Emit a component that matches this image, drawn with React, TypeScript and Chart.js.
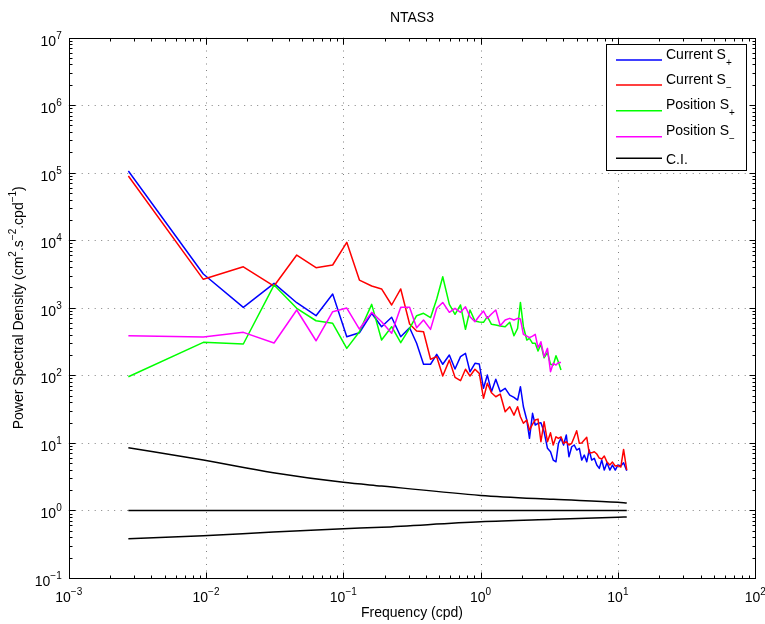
import { useEffect, useRef } from "react";
import { Chart, registerables } from "chart.js";

Chart.register(...registerables);

const FONT = '"Liberation Sans", Arial, Helvetica, sans-serif';

// Frequencies (cpd) of the spectral estimates
const FREQ = [
  0.00272, 0.00956, 0.0187, 0.0313, 0.0458, 0.0633, 0.0837, 0.106, 0.131, 0.161,
  0.19, 0.225, 0.262, 0.304, 0.342, 0.384, 0.432, 0.479, 0.53, 0.592,
  0.651, 0.714, 0.776, 0.837, 0.91, 0.978, 1.05, 1.12, 1.2, 1.29,
  1.39, 1.51, 1.63, 1.75, 1.86, 1.95, 2.05, 2.17, 2.27, 2.39,
  2.5, 2.62, 2.75, 2.9, 3.07, 3.23, 3.38, 3.54, 3.69, 3.85,
  4.02, 4.21, 4.4, 4.61, 4.81, 5.01, 5.24, 5.45, 5.69, 5.93,
  6.18, 6.44, 6.73, 7.02, 7.32, 7.63, 7.96, 8.33, 8.73, 9.13,
  9.57, 10.0, 10.5, 11.0, 11.6,
];

// Rotary spectra of the current record
const CURRENT_PLUS = [
  106000, 3170, 1015, 2300, 1190, 764, 1600, 373, 427, 830,
  525, 724, 373, 507, 298, 146, 146, 205, 146, 200,
  124, 189, 212, 113, 151, 147, 64.3, 101, 57.2, 87.6,
  57.2, 64.3, 51.1, 47.3, 43.1, 67.9, 34.3, 21.8, 11.7, 27.4,
  18.4, 19.5, 19.9, 14.6, 8.32, 7.39, 5.57, 5.26, 9.85, 11.7,
  9.31, 13.1, 6.23, 8.77, 9.31, 7.84, 8.32, 5.57, 6.61, 5.26,
  7.84, 5.57, 5.91, 4.7, 4.2, 5.57, 3.96, 5.08, 3.96, 4.7,
  3.96, 4.7, 4.54, 5.08, 3.87,
];
const CURRENT_MINUS = [
  89400, 2640, 4050, 2100, 6040, 3920, 4300, 9320, 2570, 2100,
  1900, 1100, 1900, 575, 453, 442, 173, 189, 97.7, 168,
  93.5, 83.3, 123, 97.7, 123, 107, 45.7, 76.3, 55.3, 48.2,
  52.9, 28.9, 34.3, 25.8, 34.3, 24.4, 19.5, 21.8, 15.5, 19.0,
  21.8, 22.5, 10.4, 20.6, 10.4, 14.1, 9.31, 12.3, 11.7, 12.3,
  9.85, 10.4, 9.31, 9.85, 12.2, 15.1, 9.85, 10.0, 11.0, 12.1,
  7.13, 7.13, 7.39, 6.85, 5.97, 5.77, 6.39, 5.2, 4.7, 5.2,
  4.54, 4.62, 4.39, 8.0, 3.96,
];

// Rotary spectra of the position record (first 50 frequencies)
const POSITION_PLUS = [
  95.4, 308, 291, 2170, 982, 643, 590, 251, 442, 1125,
  333, 525, 304, 497, 764, 830, 714, 1350, 2880, 1125,
  802, 1100, 480, 928, 636, 616, 610, 739, 569, 556,
  538, 525, 610, 386, 497, 1200, 525, 333, 353, 298,
  298, 229, 288, 182, 219, 146, 142, 195, 157, 120,
];
const POSITION_MINUS = [
  386, 369, 433, 301, 928, 325, 876, 990, 485, 857,
  622, 419, 1015, 1015, 507, 659, 480, 982, 1200, 857,
  982, 857, 1036, 739, 622, 755, 896, 698, 809, 928,
  543, 659, 698, 659, 698, 682, 405, 381, 361, 381,
  405, 256, 314, 189, 251, 113, 151, 142, 155, 155,
];

// Confidence interval (ratio to the estimate)
const CI_FREQ = [0.00272, 0.00956, 0.0309, 0.1, 0.19, 1.0, 3.39, 10.0, 11.6];
const CI_UPPER = [8.48, 5.57, 3.62, 2.61, 2.3, 1.67, 1.46, 1.32, 1.29];
const CI_LEVEL = [1, 1, 1, 1, 1, 1, 1, 1, 1];
const CI_LOWER = [0.381, 0.422, 0.479, 0.536, 0.565, 0.68, 0.738, 0.79, 0.8];

const X_EXPONENTS = [-3, -2, -1, 0, 1, 2];
const Y_EXPONENTS = [-1, 0, 1, 2, 3, 4, 5, 6, 7];

const TITLE = "NTAS3";
const X_TITLE = "Frequency (cpd)";

type Seg = { t: string; s?: "sup" | "sub" };

const Y_TITLE: Seg[] = [
  { t: "Power Spectral Density (cm" },
  { t: "2", s: "sup" },
  { t: ".s" },
  { t: "\u22122", s: "sup" },
  { t: ".cpd" },
  { t: "\u22121", s: "sup" },
  { t: ")" },
];

const LEGEND_ITEMS: { text: Seg[]; color: string }[] = [
  { text: [{ t: "Current S" }, { t: "+", s: "sub" }], color: "#0000ff" },
  { text: [{ t: "Current S" }, { t: "\u2212", s: "sub" }], color: "#ff0000" },
  { text: [{ t: "Position S" }, { t: "+", s: "sub" }], color: "#00ff00" },
  { text: [{ t: "Position S" }, { t: "\u2212", s: "sub" }], color: "#ff00ff" },
  { text: [{ t: "C.I." }], color: "#000000" },
];

function drawRich(
  ctx: CanvasRenderingContext2D,
  segs: Seg[],
  x: number,
  y: number,
  size: number,
  align: "left" | "center" | "right"
) {
  const small = Math.round(size * 0.72);
  ctx.textAlign = "left";
  ctx.textBaseline = "alphabetic";
  const widths = segs.map((seg) => {
    ctx.font = `${seg.s ? small : size}px ${FONT}`;
    return ctx.measureText(seg.t).width;
  });
  const total = widths.reduce((a, b) => a + b, 0);
  let cx = align === "left" ? x : align === "center" ? x - total / 2 : x - total;
  segs.forEach((seg, i) => {
    ctx.font = `${seg.s ? small : size}px ${FONT}`;
    const dy = seg.s === "sup" ? -size * 0.5 : seg.s === "sub" ? size * 0.5 : 0;
    ctx.fillText(seg.t, cx, y + dy);
    cx += widths[i];
  });
}

const matlabFrame = {
  id: "matlabFrame",
  beforeDatasetsDraw(chart: any) {
    const { ctx, chartArea: a, scales } = chart;
    const xs = scales.x;
    const ys = scales.y;
    ctx.save();
    ctx.strokeStyle = "#808080";
    ctx.lineWidth = 1;
    ctx.setLineDash([1, 5.5]);
    X_EXPONENTS.slice(1, -1).forEach((e) => {
      const px = Math.round(xs.getPixelForValue(Math.pow(10, e))) + 0.5;
      ctx.beginPath();
      ctx.moveTo(px, a.bottom);
      ctx.lineTo(px, a.top);
      ctx.stroke();
    });
    Y_EXPONENTS.slice(1, -1).forEach((e) => {
      const py = Math.round(ys.getPixelForValue(Math.pow(10, e))) + 0.5;
      ctx.beginPath();
      ctx.moveTo(a.left, py);
      ctx.lineTo(a.right, py);
      ctx.stroke();
    });
    ctx.restore();
  },
  afterDatasetsDraw(chart: any) {
    const { ctx, chartArea: a, scales } = chart;
    const xs = scales.x;
    const ys = scales.y;
    ctx.save();
    ctx.strokeStyle = "#000";
    ctx.fillStyle = "#000";
    ctx.lineWidth = 1;
    ctx.setLineDash([]);

    const L = Math.round(a.left) + 0.5;
    const R = Math.round(a.right) + 0.5;
    const T = Math.round(a.top) + 0.5;
    const B = Math.round(a.bottom) + 0.5;

    // tick marks, inward on all four sides
    const major = 6;
    const minor = 3;
    ctx.beginPath();
    X_EXPONENTS.forEach((e, i) => {
      for (let m = 1; m <= 9; m++) {
        if (m > 1 && i === X_EXPONENTS.length - 1) break;
        const px = Math.round(xs.getPixelForValue(m * Math.pow(10, e))) + 0.5;
        const len = m === 1 ? major : minor;
        ctx.moveTo(px, B);
        ctx.lineTo(px, B - len);
        ctx.moveTo(px, T);
        ctx.lineTo(px, T + len);
      }
    });
    Y_EXPONENTS.forEach((e, i) => {
      for (let m = 1; m <= 9; m++) {
        if (m > 1 && i === Y_EXPONENTS.length - 1) break;
        const py = Math.round(ys.getPixelForValue(m * Math.pow(10, e))) + 0.5;
        const len = m === 1 ? major : minor;
        ctx.moveTo(L, py);
        ctx.lineTo(L + len, py);
        ctx.moveTo(R, py);
        ctx.lineTo(R - len, py);
      }
    });
    ctx.stroke();

    // axes box
    ctx.strokeRect(L, T, R - L, B - T);

    // tick labels
    X_EXPONENTS.forEach((e) => {
      const px = xs.getPixelForValue(Math.pow(10, e));
      drawRich(ctx, [{ t: "10" }, { t: String(e).replace("-", "\u2212"), s: "sup" }], px, a.bottom + 24, 14, "center");
    });
    Y_EXPONENTS.forEach((e) => {
      const py = ys.getPixelForValue(Math.pow(10, e));
      drawRich(ctx, [{ t: "10" }, { t: String(e).replace("-", "\u2212"), s: "sup" }], a.left - 7, py + 8, 14, "right");
    });

    // titles
    const cx = (a.left + a.right) / 2;
    const cy = (a.top + a.bottom) / 2;
    drawRich(ctx, [{ t: TITLE }], cx, 22, 14, "center");
    drawRich(ctx, [{ t: X_TITLE }], cx, 617, 14, "center");
    ctx.save();
    ctx.translate(23, cy);
    ctx.rotate(-Math.PI / 2);
    drawRich(ctx, Y_TITLE, 0, 0, 14, "center");
    ctx.restore();

    // legend box
    const lx0 = 606.5, ly0 = 44.5, lx1 = 746.5, ly1 = 170.5;
    ctx.fillStyle = "#fff";
    ctx.fillRect(lx0, ly0, lx1 - lx0, ly1 - ly0);
    ctx.strokeStyle = "#000";
    ctx.strokeRect(lx0, ly0, lx1 - lx0, ly1 - ly0);
    const rows = [60, 85, 110.7, 136.7, 158.3];
    LEGEND_ITEMS.forEach((item, i) => {
      const y = rows[i];
      ctx.strokeStyle = item.color;
      ctx.lineWidth = 1.5;
      ctx.beginPath();
      ctx.moveTo(616, y);
      ctx.lineTo(662, y);
      ctx.stroke();
      ctx.fillStyle = "#000";
      const hasSub = item.text.length > 1;
      drawRich(ctx, item.text, 666, hasSub ? y - 1.5 : y + 5.5, 14, "left");
    });
    ctx.restore();
  },
};

export default function App() {
  const ref = useRef<HTMLCanvasElement>(null);

  useEffect(() => {
    if (!ref.current) return;
    const pts = (xs: number[], ys: number[]) => ys.map((v, i) => ({ x: xs[i], y: v }));
    const line = (label: string, data: any, color: string, order: number, smooth = false) => ({
      label,
      data,
      borderColor: color,
      backgroundColor: color,
      borderWidth: 1.5,
      pointRadius: 0,
      fill: false,
      order,
      borderJoinStyle: "round" as const,
      tension: 0,
      cubicInterpolationMode: smooth ? ("monotone" as const) : ("default" as const),
    });

    const chart = new Chart(ref.current, {
      type: "line",
      data: {
        datasets: [
          line("Current S+", pts(FREQ, CURRENT_PLUS), "#0000ff", 8),
          line("Current S-", pts(FREQ, CURRENT_MINUS), "#ff0000", 7),
          line("Position S+", pts(FREQ, POSITION_PLUS), "#00ff00", 6),
          line("Position S-", pts(FREQ, POSITION_MINUS), "#ff00ff", 5),
          line("C.I. upper", pts(CI_FREQ, CI_UPPER), "#000000", 4, true),
          line("C.I.", pts(CI_FREQ, CI_LEVEL), "#000000", 3),
          line("C.I. lower", pts(CI_FREQ, CI_LOWER), "#000000", 2, true),
        ],
      },
      options: {
        responsive: false,
        animation: false,
        devicePixelRatio: 1,
        layout: { padding: { left: 68.7, right: 9.8, top: 37.6, bottom: 46 } },
        plugins: {
          legend: { display: false },
          title: { display: false },
          tooltip: { enabled: false },
        },
        scales: {
          x: { type: "logarithmic", min: 0.001, max: 100, display: false },
          y: { type: "logarithmic", min: 0.1, max: 1e7, display: false },
        },
      },
      plugins: [matlabFrame],
    });
    return () => chart.destroy();
  }, []);

  return (
    <div style={{ position: "absolute", left: 0, top: 0, width: 765, height: 624, background: "#fff" }}>
      <canvas ref={ref} width={765} height={624} style={{ display: "block" }} />
    </div>
  );
}
